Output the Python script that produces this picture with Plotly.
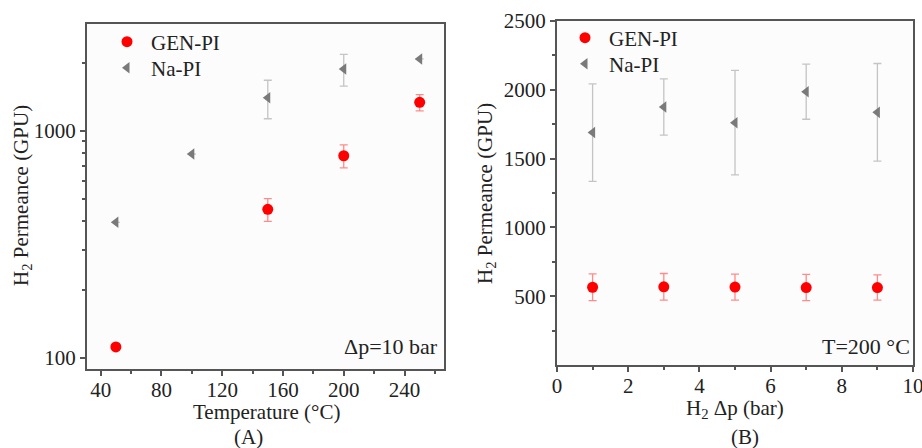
import plotly.graph_objects as go

# Panel A: permeance vs temperature (dp = 10 bar)
tempA_gen = [50, 150, 200, 250]
permA_gen = [112, 452, 778, 1337]
errA_gen = [0, 52, 90, 110]
tempA_na = [50, 100, 150, 200, 250]
permA_na = [396, 792, 1402, 1876, 2075]
errA_na = [0, 0, 270, 300, 0]

# Panel B: permeance vs pressure difference (T = 200 C)
dpB = [1, 3, 5, 7, 9]
permB_gen = [565, 568, 566, 563, 563]
errB_gen = [97, 97, 95, 95, 92]
permB_na = [1689, 1875, 1761, 1986, 1836]
errB_na = [354, 205, 380, 200, 355]

xticksA = [40, 80, 120, 160, 200, 240]
yticksA = [100, 1000]
xticksB = [0, 2, 4, 6, 8, 10]
yticksB = [500, 1000, 1500, 2000, 2500]

RED = "#ff0000"
RED_ERR = "#ff8a8a"
GRAY = "#7a7a7a"
GRAY_ERR = "#c4c4c4"
FONT = "Liberation Serif"
FS = 21
W, H = 922, 448

fig = go.Figure()

fig.add_trace(go.Scatter(x=tempA_gen, y=permA_gen, mode="markers", name="GEN-PI", showlegend=True,
                         marker=dict(symbol="circle", size=11, color=RED),
                         error_y=dict(type="data", array=errA_gen, color=RED_ERR, thickness=1.3, width=4),
                         xaxis="x", yaxis="y", legend="legend"))
fig.add_trace(go.Scatter(x=tempA_na, y=permA_na, mode="markers", name="Na-PI", showlegend=True,
                         marker=dict(symbol="triangle-left", size=10, color=GRAY),
                         error_y=dict(type="data", array=errA_na, color=GRAY_ERR, thickness=1.3, width=4),
                         xaxis="x", yaxis="y", legend="legend2"))
fig.add_trace(go.Scatter(x=dpB, y=permB_gen, mode="markers", name="GEN-PI", showlegend=True,
                         marker=dict(symbol="circle", size=11, color=RED),
                         error_y=dict(type="data", array=errB_gen, color=RED_ERR, thickness=1.3, width=4),
                         xaxis="x2", yaxis="y2", legend="legend3"))
fig.add_trace(go.Scatter(x=dpB, y=permB_na, mode="markers", name="Na-PI", showlegend=True,
                         marker=dict(symbol="triangle-left", size=10, color=GRAY),
                         error_y=dict(type="data", array=errB_na, color=GRAY_ERR, thickness=1.3, width=4),
                         xaxis="x2", yaxis="y2", legend="legend4"))

axis_common = dict(showline=True, linecolor="#555555", linewidth=2, mirror=True,
                   ticks="outside", ticklen=5, tickwidth=1.5, tickcolor="#555555",
                   showgrid=False, zeroline=False, automargin=False,
                   ticklabeloverflow="allow",
                   tickfont=dict(family=FONT, size=FS, color="#222222"))


def leg(x, y):
    return dict(x=x / W, y=1 - y / H, xanchor="left", yanchor="middle",
                bgcolor="rgba(0,0,0,0)", font=dict(family=FONT, size=FS, color="#222222"),
                itemwidth=38, visible=True)


fig.update_layout(
    width=W, height=H,
    showlegend=True,
    margin=dict(l=0, r=0, t=0, b=0, autoexpand=False),
    paper_bgcolor="white", plot_bgcolor="#fcfcfc",
    font=dict(family=FONT, size=FS, color="#222222"),
    xaxis=dict(domain=[87 / W, 444 / W], anchor="y", range=[31, 266],
               tickvals=xticksA, ticklabelstandoff=-4,
               minor=dict(tickvals=[60, 100, 140, 180, 220, 260], ticks="outside", ticklen=3,
                          tickcolor="#555555"),
               **axis_common),
    yaxis=dict(domain=[1 - 369 / H, 1 - 24 / H], anchor="x", type="log", range=[1.952, 3.471],
               tickvals=yticksA,
               minor=dict(tickvals=[200, 300, 400, 500, 600, 700, 800, 900, 2000],
                          ticks="outside", ticklen=3, tickcolor="#555555"),
               **axis_common),
    xaxis2=dict(domain=[557 / W, 913 / W], anchor="y2", range=[0, 10],
                tickvals=xticksB, ticklabelstandoff=-4,
                minor=dict(tickvals=[1, 3, 5, 7, 9], ticks="outside", ticklen=3, tickcolor="#555555"),
                **axis_common),
    yaxis2=dict(domain=[1 - 365 / H, 1 - 21 / H], anchor="x2", range=[0, 2500],
                tickvals=yticksB,
                minor=dict(tickvals=[250, 750, 1250, 1750, 2250], ticks="outside", ticklen=3,
                           tickcolor="#555555"),
                **axis_common),
    legend=leg(103, 42),
    legend2=leg(103, 68),
    legend3=leg(561, 38),
    legend4=leg(561, 64),
)

annos = [
    dict(text="H<sub>2</sub> Permeance (GPU)", x=22 / W, y=1 - 196 / H, textangle=-90),
    dict(text="Temperature (°C)", x=266 / W, y=1 - 412 / H),
    dict(text="(A)", x=249 / W, y=1 - 437 / H),
    dict(text="H<sub>2</sub> Permeance (GPU)", x=486 / W, y=1 - 193 / H, textangle=-90),
    dict(text="H<sub>2</sub> Δp (bar)", x=735 / W, y=1 - 409 / H),
    dict(text="(B)", x=745 / W, y=1 - 437 / H),
]
for a in annos:
    fig.add_annotation(xref="paper", yref="paper", showarrow=False,
                       xanchor="center", yanchor="middle",
                       font=dict(family=FONT, size=FS, color="#222222"), **a)

fig.add_annotation(xref="paper", yref="paper", x=440 / W, y=1 - 346 / H, text="Δp=10 bar",
                   showarrow=False, xanchor="right", yanchor="middle",
                   font=dict(family=FONT, size=22, color="#222222"))
fig.add_annotation(xref="paper", yref="paper", x=912 / W, y=1 - 346 / H, text="T=200 °C",
                   showarrow=False, xanchor="right", yanchor="middle",
                   font=dict(family=FONT, size=22, color="#222222"))

fig.write_html("out.html", config={"displayModeBar": False},
               post_script="document.body.style.margin='0';")
